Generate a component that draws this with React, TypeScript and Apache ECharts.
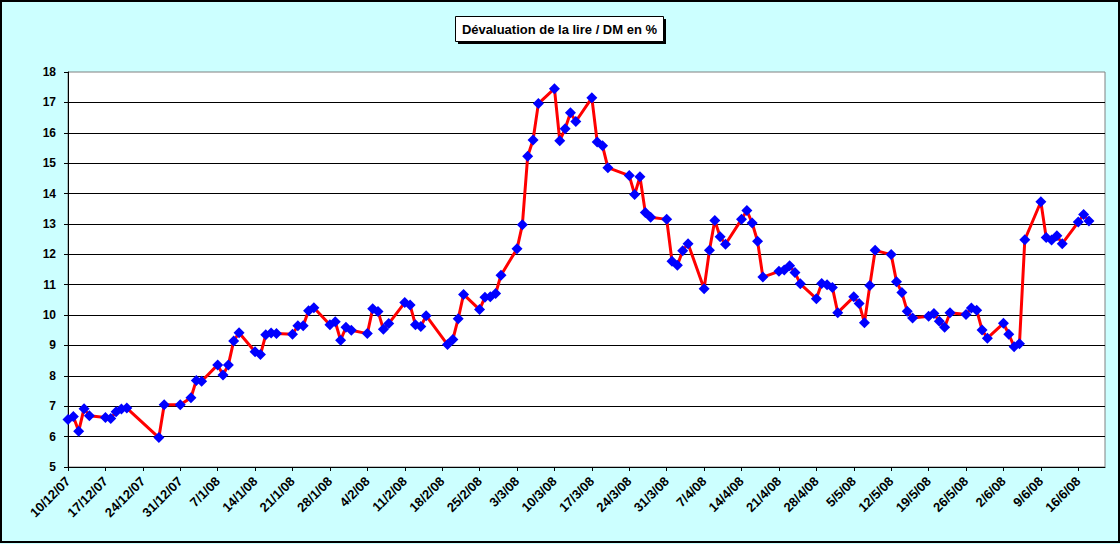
import React, { useEffect, useRef } from "react";
import * as echarts from "echarts";

const START = "2007-12-10";

const dates = [
  "2007-12-10", "2007-12-11", "2007-12-12", "2007-12-13", "2007-12-14",
  "2007-12-17", "2007-12-18", "2007-12-19", "2007-12-20", "2007-12-21",
  "2007-12-27", "2007-12-28", "2007-12-31",
  "2008-01-02", "2008-01-03", "2008-01-04",
  "2008-01-07", "2008-01-08", "2008-01-09", "2008-01-10", "2008-01-11",
  "2008-01-14", "2008-01-15", "2008-01-16", "2008-01-17", "2008-01-18",
  "2008-01-21", "2008-01-22", "2008-01-23", "2008-01-24", "2008-01-25",
  "2008-01-28", "2008-01-29", "2008-01-30", "2008-01-31", "2008-02-01",
  "2008-02-04", "2008-02-05", "2008-02-06", "2008-02-07", "2008-02-08",
  "2008-02-11", "2008-02-12", "2008-02-13", "2008-02-14", "2008-02-15",
  "2008-02-19", "2008-02-20", "2008-02-21", "2008-02-22",
  "2008-02-25", "2008-02-26", "2008-02-27", "2008-02-28", "2008-02-29",
  "2008-03-03", "2008-03-04", "2008-03-05", "2008-03-06", "2008-03-07",
  "2008-03-10", "2008-03-11", "2008-03-12", "2008-03-13", "2008-03-14",
  "2008-03-17", "2008-03-18", "2008-03-19", "2008-03-20",
  "2008-03-24", "2008-03-25", "2008-03-26", "2008-03-27", "2008-03-28",
  "2008-03-31", "2008-04-01", "2008-04-02", "2008-04-03", "2008-04-04",
  "2008-04-07", "2008-04-08", "2008-04-09", "2008-04-10", "2008-04-11",
  "2008-04-14", "2008-04-15", "2008-04-16", "2008-04-17", "2008-04-18",
  "2008-04-21", "2008-04-22", "2008-04-23", "2008-04-24", "2008-04-25",
  "2008-04-28", "2008-04-29", "2008-04-30", "2008-05-01", "2008-05-02",
  "2008-05-05", "2008-05-06", "2008-05-07", "2008-05-08", "2008-05-09",
  "2008-05-12", "2008-05-13", "2008-05-14", "2008-05-15", "2008-05-16",
  "2008-05-19", "2008-05-20", "2008-05-21", "2008-05-22", "2008-05-23",
  "2008-05-26", "2008-05-27", "2008-05-28", "2008-05-29", "2008-05-30",
  "2008-06-02", "2008-06-03", "2008-06-04", "2008-06-05", "2008-06-06",
  "2008-06-09", "2008-06-10", "2008-06-11", "2008-06-12", "2008-06-13",
  "2008-06-16", "2008-06-17", "2008-06-18",
];

const values = [
  6.56, 6.66, 6.18, 6.92, 6.69,
  6.63, 6.60, 6.82, 6.91, 6.94,
  5.97, 7.05, 7.05,
  7.28, 7.85, 7.82,
  8.36, 8.03, 8.36, 9.15, 9.42,
  8.79, 8.70, 9.35, 9.41, 9.39,
  9.37, 9.65, 9.65, 10.14, 10.24,
  9.68, 9.78, 9.17, 9.60, 9.50,
  9.39, 10.21, 10.12, 9.53, 9.72,
  10.41, 10.33, 9.68, 9.62, 9.98,
  9.03, 9.20, 9.88, 10.68,
  10.18, 10.59, 10.60, 10.71, 11.31,
  12.18, 12.97, 15.23, 15.76, 16.96,
  17.45, 15.74, 16.13, 16.66, 16.37,
  17.15, 15.70, 15.57, 14.85,
  14.59, 13.97, 14.55, 13.38, 13.22,
  13.15, 11.77, 11.64, 12.12, 12.35,
  10.87, 12.13, 13.11, 12.58, 12.33,
  13.15, 13.44, 13.03, 12.43, 11.25,
  11.44, 11.48, 11.62, 11.40, 11.03,
  10.54, 11.04, 11.00, 10.91, 10.08,
  10.60, 10.38, 9.75, 10.97, 12.13,
  11.99, 11.10, 10.74, 10.13, 9.90,
  9.96, 10.05, 9.80, 9.60, 10.08,
  10.02, 10.23, 10.16, 9.51, 9.24,
  9.73, 9.37, 8.96, 9.06, 12.48,
  13.73, 12.55, 12.47, 12.61, 12.35,
  13.06, 13.31, 13.10,
];

const tickLabels = [
  "10/12/07", "17/12/07", "24/12/07", "31/12/07", "7/1/08", "14/1/08",
  "21/1/08", "28/1/08", "4/2/08", "11/2/08", "18/2/08", "25/2/08",
  "3/3/08", "10/3/08", "17/3/08", "24/3/08", "31/3/08", "7/4/08",
  "14/4/08", "21/4/08", "28/4/08", "5/5/08", "12/5/08", "19/5/08",
  "26/5/08", "2/6/08", "9/6/08", "16/6/08",
];

const yTicks = { min: 5, max: 18, step: 1 };
const xRangeDays = 194;
const title = "Dévaluation de la lire / DM en %";

const DAY = 86400000;
const t0 = Date.parse(START);
const dayOf = (iso: string) => Math.round((Date.parse(iso) - t0) / DAY);
const dayOfLabel = (s: string) => {
  const [d, m, y] = s.split("/").map(Number);
  return Math.round((Date.UTC(2000 + y, m - 1, d) - t0) / DAY);
};

export default function App() {
  const ref = useRef<HTMLDivElement>(null);
  useEffect(() => {
    if (!ref.current) return;
    const chart = echarts.init(ref.current, null, { renderer: "svg" });
    const tickPos = tickLabels.map(dayOfLabel);
    const labelMap: Record<number, string> = {};
    tickPos.forEach((p, i) => (labelMap[p] = tickLabels[i]));
    const data = dates.map((d, i) => [dayOf(d), values[i]]);
    const font = '"Liberation Sans", Arial, sans-serif';

    chart.setOption({
      animation: false,
      backgroundColor: "#CCFFFF",
      grid: {
        left: 68,
        top: 72,
        right: 15,
        bottom: 77,
        show: true,
        backgroundColor: "#FFFFFF",
        borderColor: "#808080",
        borderWidth: 1,
      },
      xAxis: {
        type: "value",
        min: 0,
        max: xRangeDays,
        axisLine: { show: true, lineStyle: { color: "#000", width: 1 } },
        axisTick: {
          show: true,
          length: 4,
          customValues: tickPos,
          lineStyle: { color: "#000", width: 1 },
        },
        axisLabel: {
          customValues: tickPos,
          rotate: 45,
          margin: 12,
          fontFamily: font,
          fontSize: 13,
          fontWeight: "bold",
          color: "#000",
          formatter: (v: number) => labelMap[v] ?? "",
        },
        splitLine: { show: false },
      },
      yAxis: {
        type: "value",
        min: yTicks.min,
        max: yTicks.max,
        interval: yTicks.step,
        axisLine: { show: true, lineStyle: { color: "#000", width: 1 } },
        axisTick: { show: true, length: 4, lineStyle: { color: "#000" } },
        axisLabel: {
          margin: 12,
          fontFamily: font,
          fontSize: 12,
          fontWeight: "bold",
          color: "#000",
        },
        splitLine: {
          show: true,
          showMaxLine: false,
          lineStyle: { color: "#000", width: 1 },
        },
      },
      graphic: [
        {
          type: "rect",
          shape: { x: 1, y: 1, width: 1118, height: 541 },
          style: { fill: "none", stroke: "#000", lineWidth: 2 },
          silent: true,
        },
        {
          type: "rect",
          shape: { x: 458, y: 19, width: 208, height: 25 },
          style: { fill: "#000" },
          silent: true,
        },
        {
          type: "rect",
          shape: { x: 455.5, y: 16.5, width: 208, height: 25 },
          style: { fill: "#FFF", stroke: "#000", lineWidth: 1 },
          silent: true,
        },
        {
          type: "text",
          x: 559.5,
          y: 29,
          style: {
            text: title,
            fontFamily: font,
            fontSize: 13,
            fontWeight: "bold",
            fill: "#000",
            align: "center",
            verticalAlign: "middle",
          },
          silent: true,
        },
      ],
      series: [
        {
          type: "line",
          data,
          lineStyle: { color: "#FF0000", width: 3 },
          symbol: "diamond",
          symbolSize: 11,
          showAllSymbol: true,
          itemStyle: { color: "#0000FF", borderWidth: 0 },
          emphasis: { disabled: true },
        },
      ],
    });
    return () => chart.dispose();
  }, []);

  return (
    <div
      ref={ref}
      style={{ position: "fixed", left: 0, top: 0, width: 1120, height: 544 }}
    />
  );
}
